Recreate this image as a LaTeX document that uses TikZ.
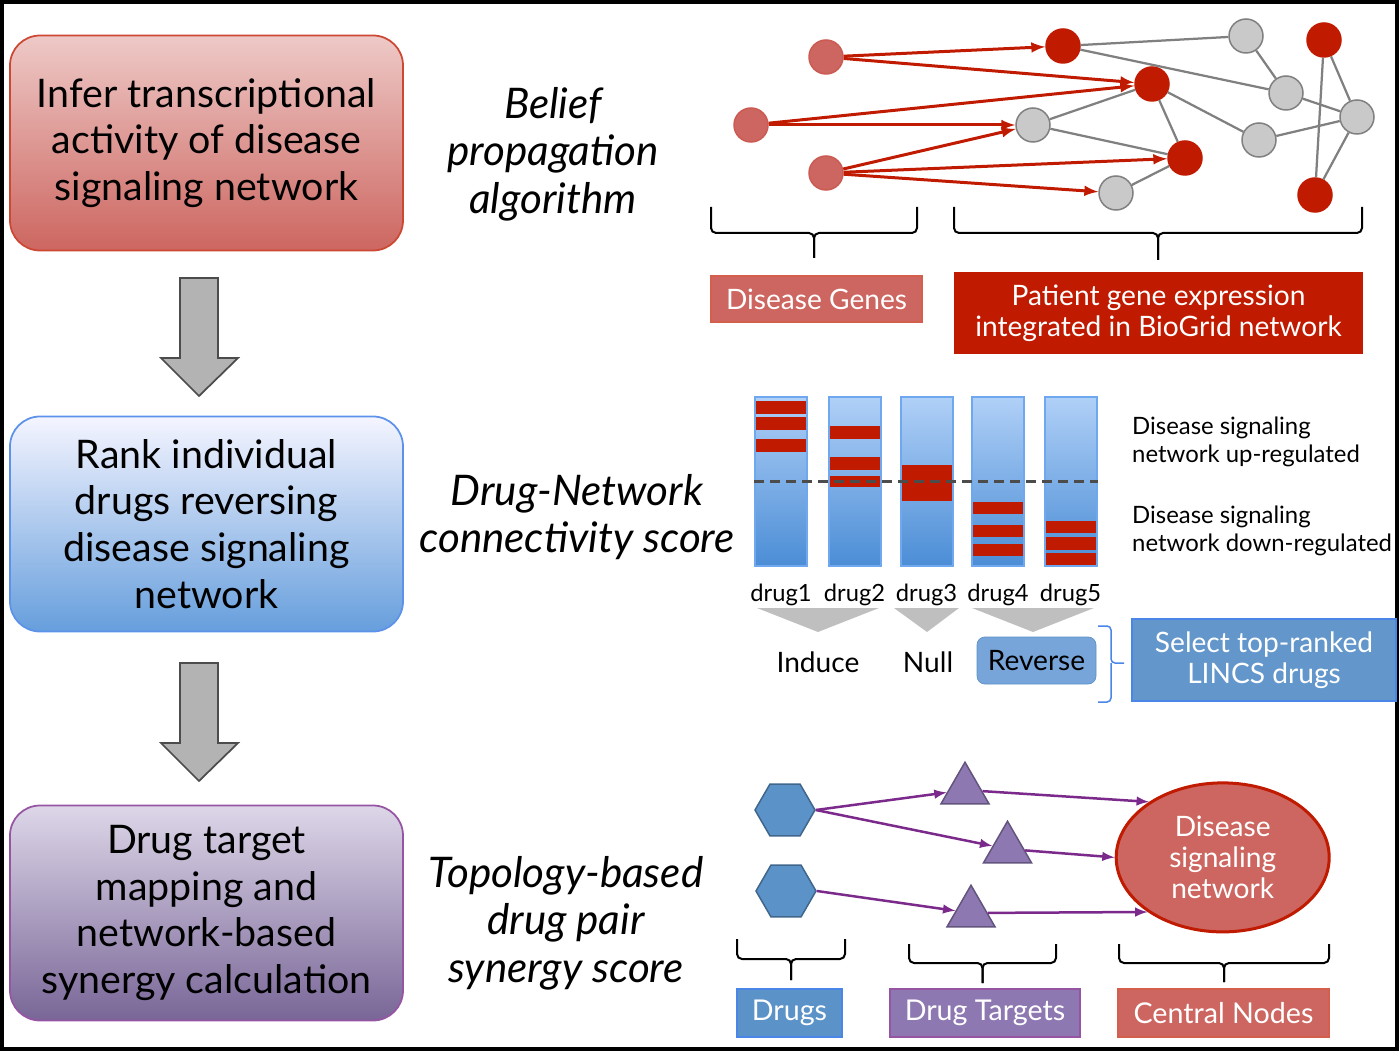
\documentclass[tikz,border=0pt]{standalone}
\usepackage{fontspec}
\setmainfont{Lato}
\usepackage{xcolor}
\usepackage{tikz}
\usetikzlibrary{arrows,shapes,positioning,calc}
\definecolor{light-red}{HTML}{CD6660}
\definecolor{dark-red}{HTML}{C01A00}
\definecolor{node-gray}{HTML}{C9C9C9}
\definecolor{edge-gray}{HTML}{808080}
\definecolor{arrow-gray}{HTML}{B3B3B3}
\definecolor{funnel-gray}{HTML}{BFBFBF}
\definecolor{drug-blue}{HTML}{5B92C8}
\definecolor{frame-blue}{HTML}{4A86E8}
\definecolor{bar-top}{HTML}{B0D0F7}
\definecolor{bar-bottom}{HTML}{4B8DD6}
\definecolor{bar-edge}{HTML}{6FA8EF}
\definecolor{target-purple}{HTML}{8E78B2}
\definecolor{arrow-purple}{HTML}{7B2A8C}
\newcommand{\setfs}[2]{\fontsize{#1}{#2}\selectfont}
% x1, x2, top, middle, tip
\newcommand{\bracket}[5]{%
  \draw[bracket] (#1,#3) -- (#1,#4) -- ({(#1+#2)/2},#4) -- ({(#1+#2)/2},#5);
  \draw[bracket] (#2,#3) -- (#2,#4) -- ({(#1+#2)/2},#4) -- ({(#1+#2)/2},#5);}

\begin{document}
\begin{tikzpicture}[x=0.2mm, y=-0.2mm,
    stepbox/.style={rounded corners=6mm, minimum width=78.6mm,
      minimum height=43mm, align=center, line width=0.35mm,
      font=\setfs{22.4}{26.6}},
    method/.style={align=center, font=\itshape\setfs{24}{27}},
    gene/.style={circle, minimum size=6.8mm, inner sep=0pt, line width=0.3mm},
    dgene/.style={gene, fill=light-red, draw=light-red!85!dark-red},
    pgene/.style={gene, fill=dark-red, draw=dark-red},
    ngene/.style={gene, fill=node-gray, draw=gray},
    link/.style={edge-gray, line width=0.45mm},
    post/.style={->, >=latex, dark-red, line width=0.6mm},
    tag/.style={text=white, align=center, font=\setfs{16}{17.5},
      line width=0.4mm},
    bar/.style={minimum width=10.4mm, minimum height=33.8mm, inner sep=0pt,
      top color=bar-top, bottom color=bar-bottom, draw=bar-edge,
      line width=0.4mm},
    druglabel/.style={font=\setfs{13.5}{16}, inner sep=0pt},
    note/.style={align=left, anchor=west, font=\setfs{13.6}{16}},
    drug/.style={regular polygon, regular polygon sides=6, minimum size=12mm,
      inner sep=0pt, fill=drug-blue, draw=drug-blue!70!black, line width=0.3mm},
    target/.style={regular polygon, regular polygon sides=3,
      minimum size=11.1mm, inner sep=0pt, fill=target-purple,
      draw=target-purple!70!black, line width=0.3mm},
    hit/.style={->, >=latex, arrow-purple, line width=0.5mm},
    bracket/.style={black, line width=0.4mm, rounded corners=1mm},
    blockarrow/.style={fill=arrow-gray, draw=black!70, line width=0.35mm}]

  \useasboundingbox (0,0) rectangle (1400,1051);
  \draw[line width=0.8mm] (2,2) rectangle (1397,1049);

  % the three steps
  \node[stepbox, draw=dark-red!80, top color=light-red!35,
    middle color=light-red!95, bottom color=light-red] (infer) at (206.5,143)
    {Infer transcriptional\\activity of disease\\signaling network};
  \node[stepbox, draw=frame-blue!90, top color=blue!4!white,
    bottom color=bar-bottom!85!white] (rank) at (206.5,524)
    {Rank individual\\drugs reversing\\disease signaling\\network};
  \node[stepbox, draw=arrow-purple!80, top color=target-purple!30,
    bottom color=target-purple!85!black] (synergy) at (206.5,913)
    {Drug target\\mapping and\\network-based\\synergy calculation};

  \draw[blockarrow] (180,278) -- (218,278) -- (218,358) -- (238,358)
    -- (199,396) -- (161,358) -- (180,358) -- cycle;
  \draw[blockarrow] (180,663) -- (218,663) -- (218,743) -- (238,743)
    -- (199,781) -- (161,743) -- (180,743) -- cycle;

  \node[method] (bp) at (553,154) {Belief\\propagation\\algorithm};
  \node[method] (dnc) at (577,517) {Drug-Network\\connectivity score};
  \node[method] (tds) at (566,923) {Topology-based\\drug pair\\synergy score};

  % network
  \node[dgene] (a1) at (826,57) {};
  \node[dgene] (a2) at (751,125) {};
  \node[dgene] (a3) at (826,173) {};
  \node[pgene] (r1) at (1063,46) {};
  \node[pgene] (r2) at (1152,84) {};
  \node[pgene] (r3) at (1185,158) {};
  \node[pgene] (r4) at (1324,40) {};
  \node[pgene] (r5) at (1315,195) {};
  \node[ngene] (g1) at (1246,36) {};
  \node[ngene] (g2) at (1286,93) {};
  \node[ngene] (g3) at (1357,117) {};
  \node[ngene] (g4) at (1259,140) {};
  \node[ngene] (g5) at (1033,125) {};
  \node[ngene] (g6) at (1116,193) {};

  \foreach \u/\v in {r1/g1, r1/g2, g1/g2, g2/g3, r2/g5, r2/r3, r2/g4,
    g5/r3, r3/g6, g4/g3, r4/r5, r4/g3, g3/r5}
    \draw[link] (\u) -- (\v);
  \foreach \u/\v in {a1/r1, a1/r2, a2/r2, a2/g5, a3/g5, a3/r3, a3/g6}
    \draw[post] (\u) -- (\v);

  \bracket{711}{917}{207}{233}{258}
  \bracket{954}{1362}{207}{233}{260}

  \node[tag, fill=light-red, draw=dark-red!70, minimum width=42.2mm,
    minimum height=9.2mm] (genes) at (816.5,299) {Disease Genes};
  \node[tag, fill=dark-red, draw=dark-red, minimum width=81.4mm,
    minimum height=16mm] (patient) at (1158.5,313)
    {Patient gene expression\\integrated in BioGrid network};

  % connectivity bars
  \foreach \n/\x in {1/781, 2/854.5, 3/926.5, 4/998, 5/1070.5}
    \node[bar] (bar\n) at (\x,481.5) {};
  \foreach \x/\a/\b in {781/401/414, 781/417/430, 781/439/452,
    854.5/426/439, 854.5/457/470, 854.5/476/487, 926.5/465/501,
    998/502/514, 998/525/537, 998/544/556,
    1070.5/521/533, 1070.5/537/550, 1070.5/553/565}
    \fill[dark-red] (\x-25,\a) rectangle (\x+25,\b);
  \draw[black!70, line width=0.5mm, dash pattern=on 2mm off 1.2mm]
    (bar1.west) -- (bar5.east);
  \foreach \n in {1,...,5}
    \node[druglabel, below=3.4mm of bar\n] (lab\n) {drug\n};

  \node[note] (up) at (1126,442) {Disease signaling\\network up-regulated};
  \node[note] (down) at (1126,531) {Disease signaling\\network down-regulated};

  \fill[funnel-gray] (757,608) -- (879,608) -- (818,632) -- cycle;
  \fill[funnel-gray] (894,608) -- (959,608) -- (927,632) -- cycle;
  \fill[funnel-gray] (972,608) -- (1094,608) -- (1033,632) -- cycle;

  \node[font=\setfs{16}{18}] (induce) at (818,662) {Induce};
  \node[font=\setfs{16}{18}] (null) at (928,662) {Null};
  \node[font=\setfs{16}{18}, fill=drug-blue!75!frame-blue!80!white,
    draw=drug-blue, rounded corners=1.6mm, minimum width=23.8mm,
    minimum height=9.4mm] (reverse) at (1036.5,660.5) {Reverse};
  \draw[frame-blue, line width=0.3mm, rounded corners=0.8mm]
    (1098,626) -- (1111,626) -- (1111,663) -- (1124,663);
  \draw[frame-blue, line width=0.3mm, rounded corners=0.8mm]
    (1098,702) -- (1111,702) -- (1111,663);
  \node[tag, font=\setfs{16}{17.8}, fill=drug-blue!95!white,
    draw=frame-blue, minimum width=52.8mm, minimum height=16.4mm]
    (select) at (1264,660) {Select top-ranked\\LINCS drugs};

  % drug pair synergy
  \node[drug] (d1) at (785,810) {};
  \node[drug] (d2) at (786,891) {};
  \node[target] (t1) at (965,790) {};
  \node[target] (t2) at (1007.5,849) {};
  \node[target] (t3) at (971,913) {};
  \node[ellipse, minimum width=42.6mm, minimum height=29.8mm,
    fill=light-red, draw=dark-red, line width=0.6mm, text=white,
    align=center, font=\setfs{16}{17.7}] (core) at (1222.7,857.4)
    {Disease\\signaling\\network};

  \draw[hit] (d1.east) -- (t1);
  \draw[hit] (d1.east) -- (t2);
  \draw[hit] (d2.east) -- (t3);
  \draw[hit] (t1) -- (core.143);
  \draw[hit] (t2) -- (core.west);
  \draw[hit] (t3) -- (core.216);

  \bracket{737}{845}{939}{959}{980}
  \bracket{909}{1056}{944}{963}{983}
  \bracket{1119}{1329}{944}{963}{982}

  \node[tag, font=\setfs{16.3}{18}, fill=drug-blue, draw=frame-blue,
    minimum width=21mm, minimum height=9.6mm] (drugs) at (789.5,1013) {Drugs};
  \node[tag, font=\setfs{16.3}{18}, fill=target-purple,
    draw=arrow-purple!80, minimum width=38mm, minimum height=9.6mm]
    (targets) at (985,1013) {Drug Targets};
  \node[tag, font=\setfs{16.3}{18}, fill=light-red, draw=dark-red!70,
    minimum width=42.2mm, minimum height=9.6mm] (central) at (1223.5,1013)
    {Central Nodes};
\end{tikzpicture}
\end{document}
